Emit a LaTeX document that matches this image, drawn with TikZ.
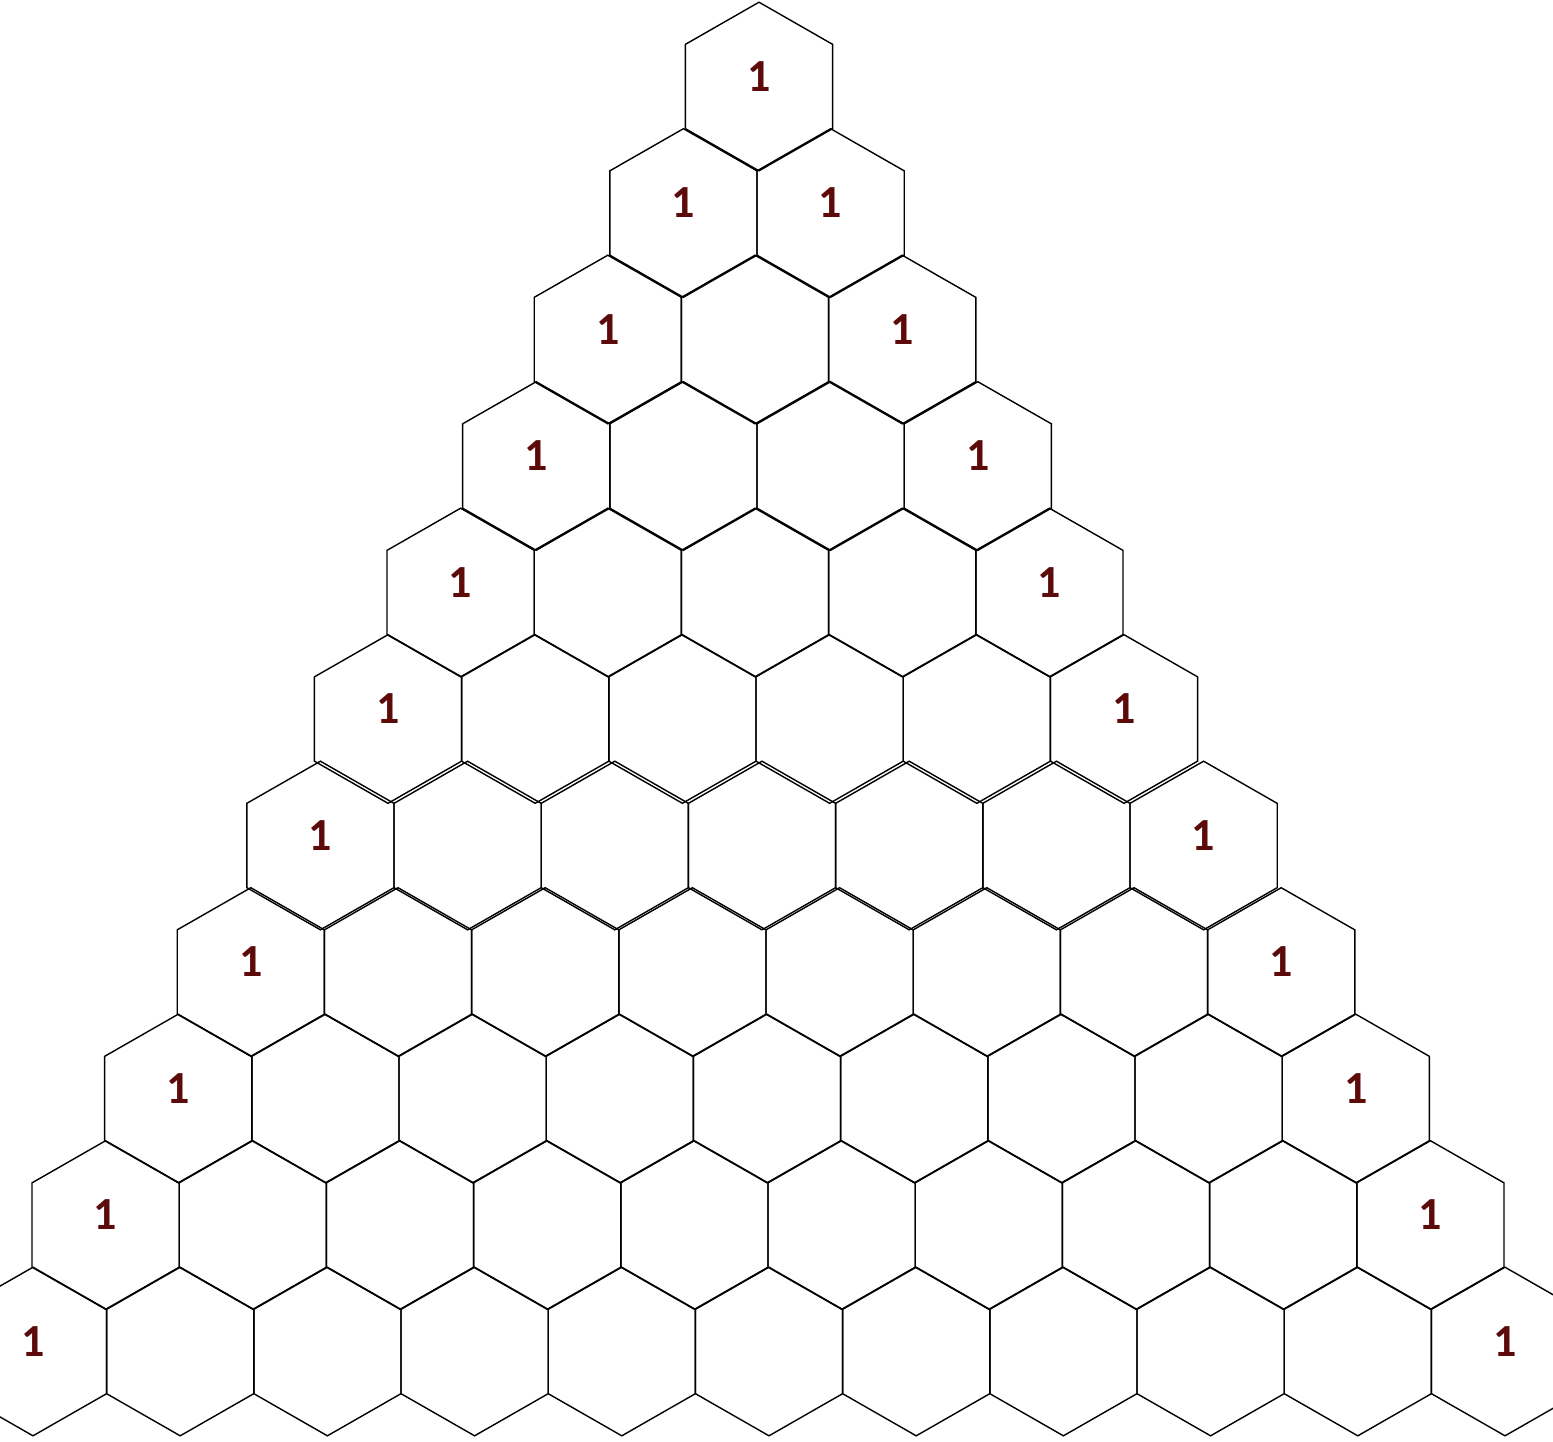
\documentclass[tikz,border=0pt]{standalone}
\usepackage{fontspec}
\setmainfont{Carlito}
\definecolor{numred}{HTML}{5C0A0A}
\begin{document}
\begin{tikzpicture}[x=1pt,y=-1pt,
  hexline/.style={line width=1.4pt, line join=miter},
  one/.style={font=\bfseries\fontsize{46}{46}\selectfont, text=numred, inner sep=0pt}]
\useasboundingbox (0,0) rectangle (1553,1441);
\clip (0,0) rectangle (1553,1441);
\foreach \r in {0,...,10} {
  \pgfmathsetmacro{\mx}{{759,757,755,757,755,756,762,766,767,768,769}[\r]}
  \foreach \k in {0,...,\r} {
    \pgfmathsetmacro{\cx}{\mx+(\k-\r/2)*147.2}
    \pgfmathsetmacro{\cy}{86.5+\r*126.5}
    \draw[hexline] (\cx,\cy-84.3) -- ++(73.6,42.15) -- ++(0,84.3) -- ++(-73.6,42.15) -- ++(-73.6,-42.15) -- ++(0,-84.3) -- cycle;
  }
}
\foreach \r in {0,...,10} {
  \pgfmathsetmacro{\mx}{{759,757,755,757,755,756,762,766,767,768,769}[\r]}
  \pgfmathsetmacro{\cy}{86.5+\r*126.5-10}
  \pgfmathsetmacro{\lx}{\mx-\r/2*147.2}
  \pgfmathsetmacro{\rx}{\mx+\r/2*147.2}
  \node[one] (L\r) at (\lx,\cy) {1};
  \ifnum\r>0
    \node[one] (R\r) at (\rx,\cy) {1};
  \fi
}
\end{tikzpicture}
\end{document}
